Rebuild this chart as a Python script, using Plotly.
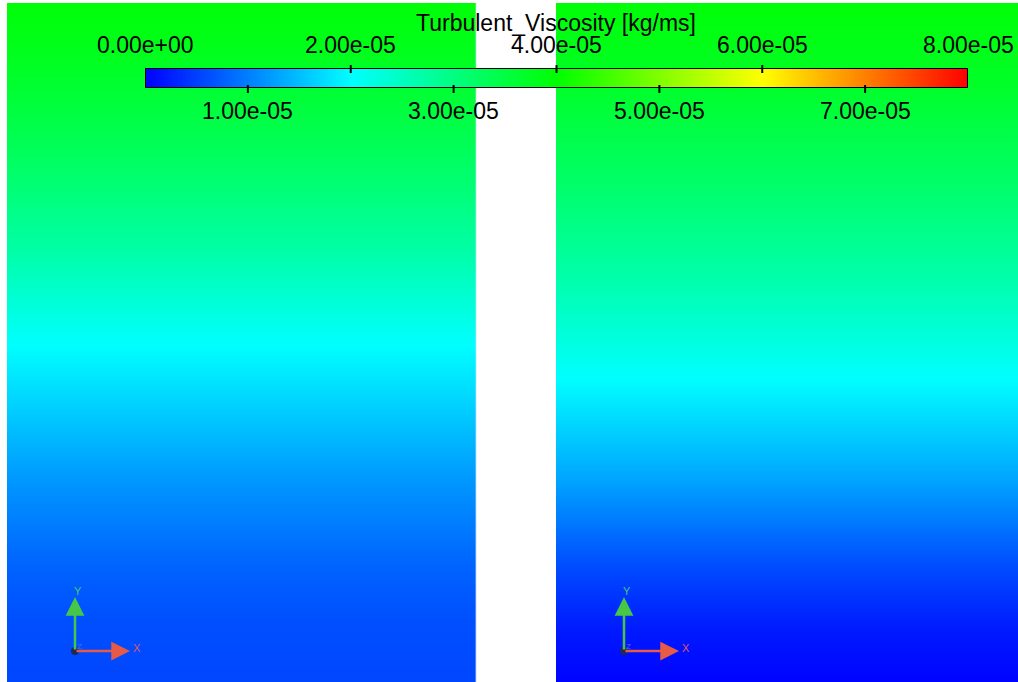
import plotly.graph_objects as go

W, H = 1018, 682

# ---- data ----
heights = [0.0, 0.091, 0.172, 0.301, 0.386, 0.497, 0.636, 0.783, 0.916, 1.0]
left_values = [0.55e-5, 0.62e-5, 0.78e-5, 1.2e-5, 1.55e-5, 2.0e-5, 2.7e-5, 3.3e-5, 3.75e-5, 3.95e-5]

heights_r = [0.0, 0.077, 0.172, 0.301, 0.448, 0.592, 0.739, 0.886, 1.0]
right_values = [0.02e-5, 0.2e-5, 0.6e-5, 1.3e-5, 2.0e-5, 2.65e-5, 3.2e-5, 3.7e-5, 3.95e-5]

tick_values = [0, 1e-5, 2e-5, 3e-5, 4e-5, 5e-5, 6e-5, 7e-5, 8e-5]
tick_labels = ["0.00e+00", "1.00e-05", "2.00e-05", "3.00e-05", "4.00e-05",
               "5.00e-05", "6.00e-05", "7.00e-05", "8.00e-05"]
title = "Turbulent_Viscosity [kg/ms]"

colorscale = [[0.0, "rgb(0,0,255)"], [0.25, "rgb(0,255,255)"], [0.5, "rgb(0,255,0)"],
              [0.75, "rgb(255,255,0)"], [1.0, "rgb(255,0,0)"]]
ZMIN, ZMAX = 0.0, 8e-5
FONT = "Liberation Sans, Arial, sans-serif"


def px(x):
    return x / W


def py(y):
    return 1 - y / H


fig = go.Figure()

fig.add_trace(go.Heatmap(x=[0, 1], y=heights, z=[[v, v] for v in left_values],
                         colorscale=colorscale, zmin=ZMIN, zmax=ZMAX, zsmooth="best",
                         showscale=False, hoverinfo="skip", xaxis="x", yaxis="y"))
fig.add_trace(go.Heatmap(x=[0, 1], y=heights_r, z=[[v, v] for v in right_values],
                         colorscale=colorscale, zmin=ZMIN, zmax=ZMAX, zsmooth="best",
                         showscale=False, hoverinfo="skip", xaxis="x2", yaxis="y2"))
# colour legend bar
fig.add_trace(go.Heatmap(x=tick_values, y=[0, 1], z=[tick_values, tick_values],
                         colorscale=colorscale, zmin=ZMIN, zmax=ZMAX, zsmooth="best",
                         showscale=False, hoverinfo="skip", xaxis="x3", yaxis="y3"))

hidden = dict(visible=False, showgrid=False, zeroline=False, fixedrange=True)
panel_top = py(3)
fig.update_layout(
    width=W, height=H, autosize=False,
    margin=dict(l=0, r=0, t=0, b=0, pad=0),
    paper_bgcolor="white", plot_bgcolor="rgba(0,0,0,0)",
    showlegend=False,
    xaxis=dict(domain=[px(7), px(476)], range=[0, 1], **hidden),
    yaxis=dict(domain=[0, panel_top], range=[0, 1], **hidden),
    xaxis2=dict(domain=[px(556), 1], range=[0, 1], **hidden),
    yaxis2=dict(domain=[0, panel_top], range=[0, 1], **hidden),
    xaxis3=dict(domain=[px(145), px(968)], range=[ZMIN, ZMAX], **hidden),
    yaxis3=dict(domain=[py(88), py(68)], range=[0, 1], **hidden),
)

shapes = []
# panel divider line (light edge of left panel), kept out of the colour bar
for y0, y1 in ((0, py(89)), (py(67), panel_top)):
    shapes.append(dict(type="line", xref="paper", yref="paper", x0=px(476), x1=px(476),
                       y0=y0, y1=y1, line=dict(color="rgba(190,220,255,0.8)", width=1)))
# colour bar border
shapes.append(dict(type="rect", xref="x3", yref="y3", x0=ZMIN, x1=ZMAX, y0=0, y1=1,
                   line=dict(color="black", width=2)))
annotations = []
for i, (v, lab) in enumerate(zip(tick_values, tick_labels)):
    if i % 2 == 0:
        if 0 < i < len(tick_values) - 1:
            shapes.append(dict(type="line", xref="x3", yref="paper", x0=v, x1=v,
                               y0=py(73), y1=py(65), line=dict(color="black", width=2)))
        annotations.append(dict(x=v, xref="x3", y=py(45), yref="paper", text=lab,
                                showarrow=False, xanchor="center", yanchor="middle",
                                font=dict(family=FONT, size=23, color="black")))
    else:
        shapes.append(dict(type="line", xref="x3", yref="paper", x0=v, x1=v,
                           y0=py(93), y1=py(85), line=dict(color="black", width=2)))
        annotations.append(dict(x=v, xref="x3", y=py(111), yref="paper", text=lab,
                                showarrow=False, xanchor="center", yanchor="middle",
                                font=dict(family=FONT, size=23, color="black")))

annotations.append(dict(x=px(556), xref="paper", y=py(23), yref="paper", text=title,
                        showarrow=False, xanchor="center", yanchor="middle",
                        font=dict(family=FONT, size=23, color="black")))

# axis triads
for ox in (75, 624):
    oy = 651
    annotations.append(dict(x=px(ox), y=py(597), xref="paper", yref="paper",
                            ax=0, ay=54, axref="pixel", ayref="pixel",
                            text="", showarrow=True, arrowhead=2, arrowsize=1.5,
                            arrowwidth=2.5, arrowcolor="rgb(70,200,70)"))
    annotations.append(dict(x=px(ox + 55), y=py(oy), xref="paper", yref="paper",
                            ax=-55, ay=0, axref="pixel", ayref="pixel",
                            text="", showarrow=True, arrowhead=2, arrowsize=1.5,
                            arrowwidth=2.5, arrowcolor="rgb(230,90,70)"))
    shapes.append(dict(type="circle", xref="paper", yref="paper",
                       x0=px(ox - 4), x1=px(ox + 4), y0=py(oy + 4), y1=py(oy - 4),
                       fillcolor="rgb(30,40,90)", line=dict(width=0)))
    annotations.append(dict(x=px(ox + 3), y=py(591), xref="paper", yref="paper", text="Y",
                            showarrow=False, xanchor="center", yanchor="middle",
                            font=dict(family=FONT, size=11, color="rgb(70,200,110)")))
    annotations.append(dict(x=px(ox + 62), y=py(648), xref="paper", yref="paper", text="X",
                            showarrow=False, xanchor="center", yanchor="middle",
                            font=dict(family=FONT, size=11, color="rgb(220,90,110)")))
    annotations.append(dict(x=px(ox + 4), y=py(646), xref="paper", yref="paper", text="Z",
                            showarrow=False, xanchor="center", yanchor="middle",
                            font=dict(family=FONT, size=8, color="rgb(80,110,220)")))

fig.update_layout(shapes=shapes, annotations=annotations)
fig.write_html("out.html", config={"displayModeBar": False})
